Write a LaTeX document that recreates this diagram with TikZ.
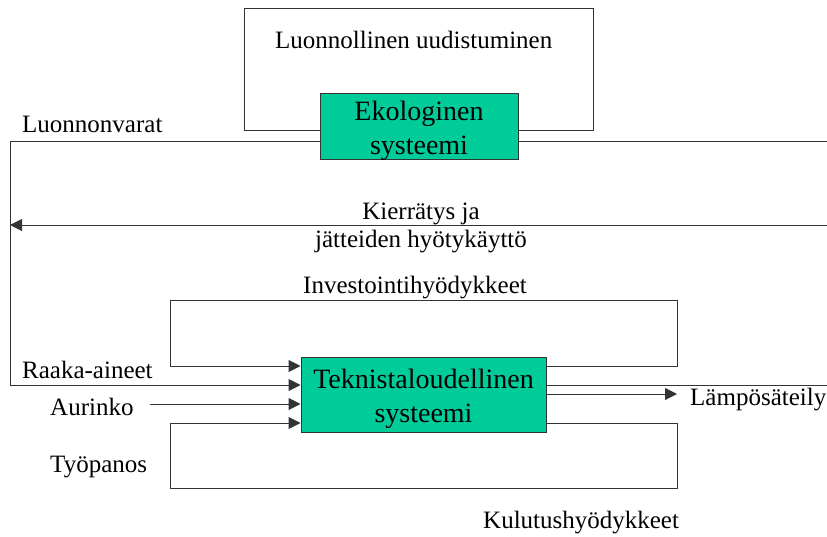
\documentclass[tikz,border=0pt]{standalone}
\usepackage{fontspec}
\setmainfont{Liberation Serif}
\usepackage{xcolor}
\usetikzlibrary{arrows.meta}

\definecolor{ekogreen}{HTML}{00CC99}

\begin{document}
\begin{tikzpicture}[x=1pt, y=-1pt,
        sysbox/.style={draw=black!80, fill=ekogreen, line width=1pt, inner sep=0pt, align=center,
            font=\fontsize{28}{34}\selectfont},
        lbl/.style={inner sep=0pt, anchor=base west, font=\fontsize{25}{30}\selectfont},
        flow/.style={draw=black!80, line width=1pt},
        flowarr/.style={flow, -{Triangle[length=12pt, width=12pt]}}]
        \useasboundingbox (0, 0) rectangle (827, 536);

        \node[sysbox, minimum width=198pt, minimum height=66pt, text height=61pt, text depth=5pt] (eko) at (419, 126) {Ekologinen\\systeemi};
        \node[sysbox, minimum width=245pt, minimum height=75pt, text height=65pt, text depth=10pt] (tekn) at (423.5, 394.5) {Teknistaloudellinen\\systeemi};

        \coordinate (uusiA) at (244, 8);
        \coordinate (uusiB) at (593, 130);
        \coordinate (vasen) at (10, 385);
        \coordinate (oikea1) at (827, 141);
        \coordinate (oikea2) at (827, 385);
        \coordinate (kierrA) at (827, 225);
        \coordinate (kierrB) at (10, 225);
        \coordinate (invA) at (677, 300);
        \coordinate (invB) at (170, 366);
        \coordinate (kulA) at (677, 488);
        \coordinate (kulB) at (170, 423);
        \coordinate (aur) at (150, 404);
        \coordinate (lampoK) at (677, 394);

        % ekologinen systeemi
        \draw[flow] (eko.west |- uusiB) -| (uusiA) -| (uusiB) -- (eko.east |- uusiB);
        \draw[flowarr] (eko.west |- oikea1) -| (vasen) -- (tekn.west |- vasen);
        \draw[flow] (eko.east |- oikea1) -- (oikea1);
        \draw[flowarr] (kierrA) -- (kierrB);

        % teknistaloudellinen systeemi
        \draw[flowarr] (tekn.east |- invB) -| (invA) -| (invB) -- (tekn.west |- invB);
        \draw[flowarr] (tekn.east |- kulB) -| (kulA) -| (kulB) -- (tekn.west |- kulB);
        \draw[flowarr] (aur) -- (tekn.west |- aur);
        \draw[flowarr] (tekn.east |- lampoK) -- (lampoK);
        \draw[flow] (tekn.east |- oikea2) -- (oikea2);

        \node[lbl] (uusi) at (275, 48) {Luonnollinen uudistuminen};
        \node[lbl] (luonvar) at (22, 132) {Luonnonvarat};
        \node[lbl, anchor=center, align=center, font=\fontsize{25}{28}\selectfont] (kierr) at (421, 228.2) {Kierrätys ja\\jätteiden hyötykäyttö};
        \node[lbl] (inv) at (303, 293) {Investointihyödykkeet};
        \node[lbl] (raaka) at (22, 378) {Raaka-aineet};
        \node[lbl] (aurinko) at (50, 415) {Aurinko};
        \node[lbl] (tyo) at (50, 472) {Työpanos};
        \node[lbl] (lampo) at (690, 405) {Lämpösäteily};
        \node[lbl] (kulutus) at (483, 528) {Kulutushyödykkeet};
    \end{tikzpicture}
\end{document}
